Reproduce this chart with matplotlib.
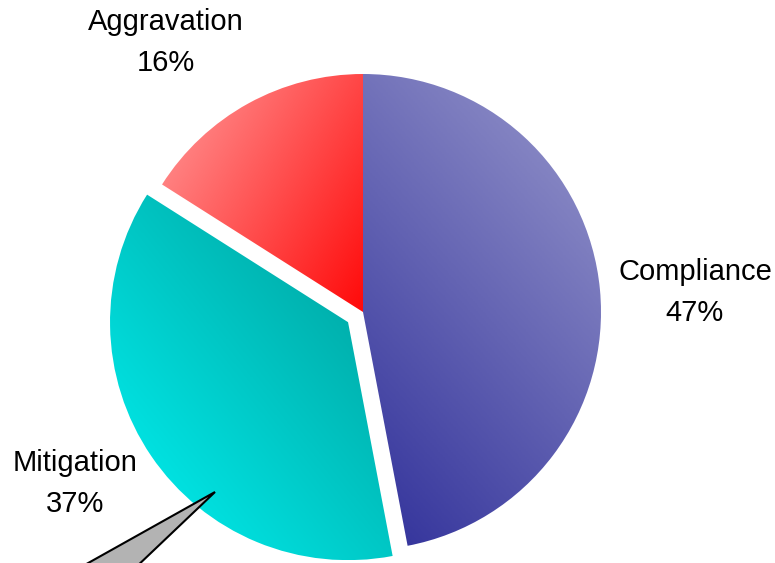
import numpy as np
import matplotlib
matplotlib.use('Agg')
import matplotlib.pyplot as plt
from matplotlib.colors import LinearSegmentedColormap
from matplotlib.patches import Polygon

#---Data
labels = ['Compliance', 'Mitigation', 'Aggravation']
values = [47, 37, 16]
explode = [0, 0.076, 0]

#---Gradient colours (start, end) and direction of each slice
grad_colors = [('#30309A', '#9898CC'),
               ('#00F4F4', '#009A96'),
               ('#FF9C9C', '#FF0A0A')]
grad_dirs = [(1.0, 0.9), (1.0, 0.8), (1.0, -0.6)]

plt.rcParams['font.family'] = ['Liberation Sans', 'DejaVu Sans']

W, H = 775, 563
fig = plt.figure(figsize=(W / 100, H / 100), dpi=100)
ax = fig.add_axes([0, 0, 1, 1])

cx, cy, R = 363, H - 312, 238
#---pie explode is in data units here, so scale by the radius
wedges, _ = ax.pie(values, explode=[e * R for e in explode], startangle=90, counterclock=False,
                   center=(cx, cy), radius=R,
                   wedgeprops=dict(facecolor='none', edgecolor='none'))

ax.set_xlim(0, W)
ax.set_ylim(0, H)
ax.set_aspect('auto')
ax.axis('off')

#---Fill each wedge with a linear gradient clipped to its shape
for w, (c0, c1), d in zip(wedges, grad_colors, grad_dirs):
    bb = w.get_path().get_extents()
    nx, ny = 200, 200
    xs = np.linspace(bb.x0, bb.x1, nx)
    ys = np.linspace(bb.y0, bb.y1, ny)
    X, Y = np.meshgrid(xs, ys)
    t = X * d[0] + Y * d[1]
    t = (t - t.min()) / (t.max() - t.min())
    cmap = LinearSegmentedColormap.from_list('g', [c0, c1])
    im = ax.imshow(t, cmap=cmap, origin='lower', extent=[bb.x0, bb.x1, bb.y0, bb.y1],
                   interpolation='bilinear', aspect='auto', zorder=1)
    im.set_clip_path(w)

#---Callout pointer for Mitigation
tip = (215, H - 492)
callout = Polygon([tip, (40, H - 590), (112, H - 590)], closed=True,
                  facecolor='#B3B3B3', edgecolor='black', linewidth=1.5, zorder=3)
ax.add_patch(callout)

#---Labels
fs = 21
label_pos = {'Compliance': (695, 272), 'Mitigation': (75, 463), 'Aggravation': (166, 22)}
for lab, v in zip(labels, values):
    x, y = label_pos[lab]
    ax.text(x, H - y, lab, ha='center', va='center', fontsize=fs, color='black', zorder=4)
    ax.text(x, H - y - 41, f'{v}%', ha='center', va='center', fontsize=fs, color='black', zorder=4)

fig.savefig('out.png', dpi=100)
